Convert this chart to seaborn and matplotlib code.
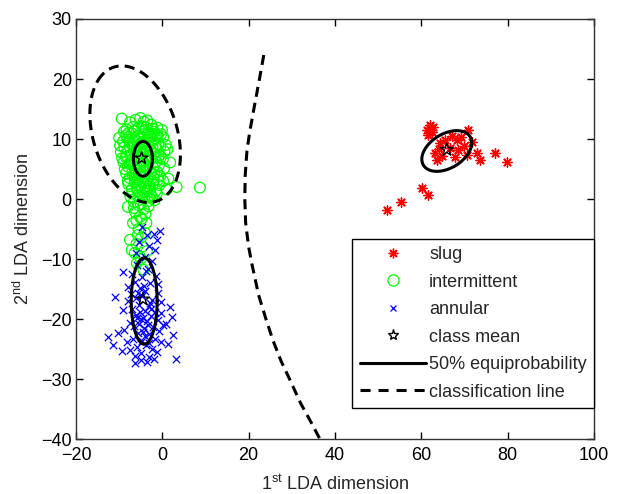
import numpy as np
import pandas as pd
import seaborn as sns
import matplotlib
matplotlib.use('Agg')
import matplotlib.pyplot as plt
from matplotlib.lines import Line2D

# slug points
slug_x = [61.2, 61.9, 62.4, 62.8, 61.5, 62.0, 64.3, 63.2, 63.6, 64.0, 65.5, 66.6, 67.8, 68.2, 68.6,
          69.3, 70.5, 70.9, 71.7, 72.8, 73.6, 69.8, 67.0, 64.8, 77.1, 79.8, 60.1, 61.6, 55.4, 52.0]
slug_y = [11.5, 12.3, 11.2, 12.0, 10.7, 11.8, 9.3, 7.6, 6.5, 8.4, 9.9, 8.45, 7.05, 9.8, 8.2,
          10.4, 7.3, 11.5, 9.55, 7.6, 6.5, 8.9, 10.5, 7.2, 7.7, 6.2, 1.8, 0.7, -0.45, -1.8]

# intermittent points
inter_x = [-9.4, -7.5, -6.2, -5.1, -4.3, -3.5, -2.6, -6.8, -8.3, -5.5, -4.0, -2.0, -1.2, 0.2,
           -10.0, -9.1, -8.4, -7.6, -7.0, -6.3, -5.7, -4.9, -4.4, -3.7, -3.0, -2.4, -1.7, -0.9, -0.3, 0.8, -8.8,
           -9.6, -8.1, -7.3, -6.7, -6.0, -5.3, -4.6, -3.9, -3.2, -2.7, -2.0, -1.3, -0.6, 0.5, -8.5, -5.0, -3.5,
           -9.0, -8.0, -7.2, -6.5, -5.8, -5.1, -4.3, -3.6, -2.9, -2.2, -1.5, -0.8, 0.1, -6.1,
           -8.4, -7.6, -6.9, -6.2, -5.5, -4.8, -4.1, -3.4, -2.7, -2.0, -1.2, -0.5, 1.4,
           -7.9, -7.1, -6.4, -5.7, -5.0, -4.3, -3.6, -2.9, -2.2, -1.5, -0.7, 3.3, 8.7, 1.0,
           -7.4, -6.6, -5.8, -5.0, -4.2, -3.4, -2.6, -1.8,
           -8.0, -6.3, -5.2, -3.9, -6.8, -4.0, -5.5, -7.5, -6.0, -4.6, -7.1, -5.9, -4.4, -5.2,
           -7.8, -6.5, -5.4, -4.7, -3.8, -2.5, -1.4, -6.9, -5.9, -4.5, -3.1, -2.3, -7.7, -6.3, -5.2, -4.1, -3.0,
           -9.8, -8.9, -7.9, -6.9, -5.6, -4.2, -3.3, -2.3, -1.1, -0.1, 1.2,
           -9.3, -8.2, -7.1, -6.0, -4.9, -3.8, -2.6, -1.6, -0.4, 1.8,
           -8.7, -7.5, -6.4, -5.3, -4.4, -3.0, -1.9, -0.9, 0.4,
           -8.0, -6.8, -5.6, -4.5, -3.2, -2.1, -1.0, 0.2, -7.0, -5.9, -4.6, -3.5, -2.4, -1.3,
           -6.6, -5.5, -4.3, -3.2, -6.0, -4.8, -3.7, -5.7, -4.9, -6.4, -5.0, -3.6]
inter_y = [13.4, 12.8, 13.2, 13.5, 12.9, 13.1, 12.4, 12.0, 11.6, 11.8, 11.5, 11.2, 11.9, 10.3,
           10.2, 9.6, 10.6, 9.4, 10.9, 9.9, 10.5, 9.3, 10.8, 9.8, 10.4, 9.5, 10.1, 9.2, 10.8, 9.0, 8.6,
           7.8, 8.2, 7.4, 8.6, 7.2, 8.3, 7.6, 8.5, 7.1, 8.1, 7.5, 8.4, 7.3, 7.9, 7.0, 6.9, 6.5,
           6.1, 5.4, 6.4, 5.6, 6.7, 5.2, 6.1, 5.5, 6.4, 5.3, 6.2, 5.6, 6.6, 4.9,
           4.3, 3.5, 4.6, 3.3, 4.1, 3.6, 4.7, 3.2, 4.3, 3.5, 4.5, 3.8, 3.4,
           2.5, 1.6, 2.8, 1.3, 2.2, 1.1, 2.6, 1.7, 2.9, 1.4, 2.3, 2.0, 1.9, 1.6,
           0.4, -0.5, 0.6, -0.8, 0.2, -0.4, 0.7, -0.2,
           -1.3, -2.2, -3.0, -2.5, -4.0, -5.7, -5.0, -6.8, -7.5, -7.9, -8.5, -10.7, -11.8, -9.6,
           11.0, 11.3, 10.0, 12.1, 11.9, 10.9, 10.6, 9.0, 9.7, 9.1, 8.8, 11.7, 5.9, 4.0, 2.9, 1.8, 0.2,
           8.9, 11.2, 10.3, 9.7, 9.0, 9.5, 11.0, 8.8, 10.6, 11.5, 8.3,
           6.8, 7.1, 6.0, 8.0, 6.4, 7.9, 6.9, 7.0, 8.8, 6.1,
           5.0, 5.9, 5.2, 7.0, 5.4, 5.0, 4.1, 6.9, 5.1,
           3.0, 3.9, 2.4, 2.9, 2.1, 2.5, 3.2, 3.0, 0.9, 1.8, 0.5, 1.5, 0.3, 0.9,
           -1.5, -1.0, -1.7, -1.2, -3.6, -3.3, -4.0, -6.0, -6.4, -9.0, -10.0, -8.7]

# annular points
ann_x = [-4.8, -0.5, -1.3, -3.5, -2.0, -5.5, -3.0, -6.2, -1.6,
         -4.0, -2.4, -5.8, -3.3, -9.0, -7.0, -1.5, -4.7, -6.4, -2.8, -8.0, -5.2, -3.9, -1.1, -7.2,
         -11.0, -6.0, -4.6, -2.4, -0.3, -5.3, -3.2, 1.8, -9.0, -7.0, -4.1, -1.6, -0.2, -6.1, -2.7,
         2.2, -5.0, -3.6, -1.0, -7.6, 0.2, -6.5, -4.3, -2.1, -0.7, -5.6, -3.1, 2.5, -8.3, -12.5,
         -6.8, -4.7, -1.8, -0.4, -11.4, -5.9, -3.8, -2.5, -9.4, -7.5, -4.9, -1.2, -6.3, -3.2, 3.2,
         -6.3, -3.6, -5.0, -2.0, -10.2, -8.8, 0.9, 1.3, -7.9, -0.9, -5.7,
         -4.4, -5.1, -3.4, -4.0, -2.9, -5.4, -4.2, -3.7, -4.9, -2.6, -5.8, -3.0, -4.5]
ann_y = [-4.6, -5.4, -6.8, -6.0, -5.8, -7.2, -7.8, -9.0, -8.5,
         -9.6, -10.4, -11.0, -11.7, -12.1, -12.5, -12.8, -13.0, -13.8, -14.0, -14.6, -14.8, -15.3, -15.6, -15.9,
         -16.3, -16.5, -16.2, -16.8, -17.2, -17.6, -17.9, -18.0, -18.5, -18.3, -18.7, -18.9, -19.0, -19.3, -19.5,
         -19.6, -20.0, -20.4, -20.2, -20.6, -21.0, -21.2, -21.5, -21.3, -22.0, -22.3, -22.5, -22.7, -23.8, -23.0,
         -23.4, -23.6, -23.3, -23.9, -24.3, -24.6, -24.4, -25.0, -25.4, -25.2, -25.7, -25.5, -26.2, -26.3, -26.6,
         -27.4, -27.1, -26.9, -26.7, -22.4, -21.8, -20.8, -24.1, -17.0, -14.2, -15.7,
         -19.8, -18.9, -21.0, -22.8, -17.3, -20.9, -14.5, -12.0, -16.0, -18.4, -19.9, -24.0, -22.1]

# class means
mean_x = [65.9, -4.8, -4.5]
mean_y = [8.2, 6.8, -16.7]

# 50% equiprobability ellipses: centre, semi-axes, rotation (deg)
ell_cx = [65.9, -4.5, -4.2]
ell_cy = [8.0, 6.7, -17.0]
ell_a = [6.0, 2.2, 3.0]
ell_b = [3.0, 2.9, 7.2]
ell_ang = [17.8, 0.0, 0.0]

# classification boundary around intermittent class (ellipse)
cls_ell = (-6.3, 10.8, 12.5, 9.13, 127.2)
# classification boundary between intermittent/annular and slug
bound_x = [23.5, 22.5, 21.2, 20.2, 19.6, 19.2, 19.1, 19.3, 20.0, 20.8, 22.3, 24.0, 25.6, 27.5, 29.6, 32.0, 34.3, 36.5]
bound_y = [24, 20, 15, 11, 8, 4, 0, -4, -8, -11, -16, -20, -23.5, -27, -30.2, -34, -37, -40]


def ellipse_pts(cx, cy, a, b, ang):
    t = np.linspace(0, 2 * np.pi, 200)
    th = np.deg2rad(ang)
    ex = cx + a * np.cos(t) * np.cos(th) - b * np.sin(t) * np.sin(th)
    ey = cy + a * np.cos(t) * np.sin(th) + b * np.sin(t) * np.cos(th)
    return ex, ey


sns.set_style("ticks")
plt.rcParams['font.family'] = ['Liberation Sans', 'DejaVu Sans']
plt.rcParams['mathtext.fontset'] = 'custom'
plt.rcParams['mathtext.rm'] = 'Liberation Sans'
plt.rcParams['font.size'] = 13

fig = plt.figure(figsize=(6.23, 4.94), dpi=100)
ax = fig.add_axes([76 / 623, 55 / 494, 518 / 623, 420 / 494])

sns.scatterplot(x=slug_x, y=slug_y, marker=(8, 2, 0), s=45, color='#ff0000', linewidth=1.0, ax=ax)
sns.scatterplot(x=inter_x, y=inter_y, marker='o', s=60, facecolor='none', edgecolor='#00ff00',
                linewidth=0.9, ax=ax)
sns.scatterplot(x=ann_x, y=ann_y, marker='x', s=28, color='#0000ff', linewidth=0.9, ax=ax)

for cx, cy, a, b, ang in zip(ell_cx, ell_cy, ell_a, ell_b, ell_ang):
    ex, ey = ellipse_pts(cx, cy, a, b, ang)
    ax.plot(ex, ey, color='black', lw=2.2)

ex, ey = ellipse_pts(*cls_ell)
ax.plot(ex, ey, color='black', lw=2.2, dashes=(3.3, 2.0))
ax.plot(bound_x, bound_y, color='black', lw=2.2, dashes=(3.3, 2.0))

sns.scatterplot(x=mean_x, y=mean_y, marker='*', s=90, facecolor='none', edgecolor='black',
                linewidth=1.0, ax=ax, zorder=5)

ax.set_xlim(-20, 100)
ax.set_ylim(-40, 30)
ax.set_xticks(range(-20, 101, 20))
ax.set_yticks(range(-40, 31, 10))
ax.tick_params(direction='in', top=True, right=True, length=5, width=1, colors='black',
               labelsize=13)
ax.tick_params(axis='x', pad=6)
ax.tick_params(axis='y', pad=3)
for sp in ax.spines.values():
    sp.set_visible(True)
    sp.set_color('#333333')
    sp.set_linewidth(1)

ax.set_xlabel(r'1$^{\mathrm{st}}$ LDA dimension', fontsize=13, labelpad=7)
ax.set_ylabel(r'2$^{\mathrm{nd}}$ LDA dimension', fontsize=13, labelpad=6)

handles = [
    Line2D([], [], ls='none', marker=(8, 2, 0), color='#ff0000', markersize=7, mew=1.0),
    Line2D([], [], ls='none', marker='o', mfc='none', mec='#00ff00', markersize=8, mew=0.9),
    Line2D([], [], ls='none', marker='x', color='#0000ff', markersize=5, mew=0.9),
    Line2D([], [], ls='none', marker='*', mfc='none', mec='black', markersize=8, mew=1.0),
    Line2D([], [], color='black', lw=2.2),
    Line2D([], [], color='black', lw=2.2, dashes=(3.3, 2.6)),
]
labels = ['slug', 'intermittent', 'annular', 'class mean', '50% equiprobability', 'classification line']
leg = ax.legend(handles, labels, loc='lower right', bbox_to_anchor=(1.0, 0.074), fontsize=13,
                frameon=True, fancybox=False, framealpha=1, edgecolor='black',
                handlelength=3.7, handletextpad=0.15, labelspacing=0.58, borderpad=0.4,
                borderaxespad=0)
leg.get_frame().set_linewidth(1)

fig.savefig('out.png', dpi=100)
